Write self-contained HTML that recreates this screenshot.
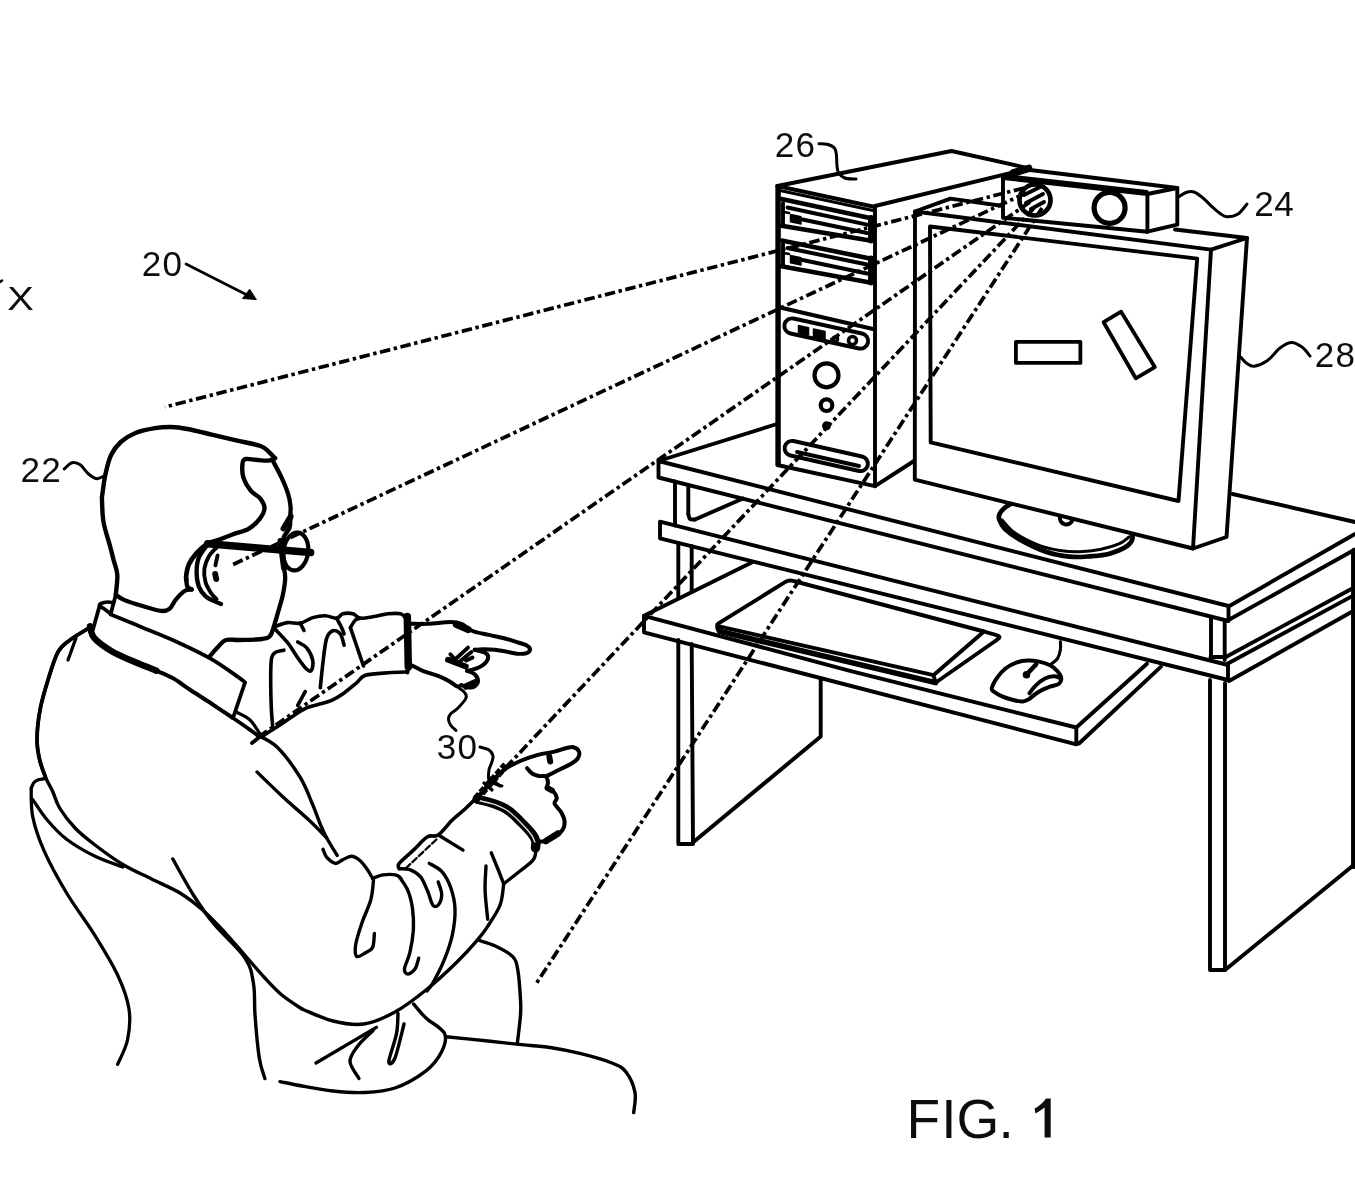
<!DOCTYPE html>
<html><head><meta charset="utf-8"><title>FIG. 1</title>
<style>
html,body{margin:0;padding:0;background:#fff;}
body{width:1355px;height:1200px;overflow:hidden;}
svg{display:block}
svg path,svg circle,svg ellipse{fill:none;stroke:#000;stroke-linecap:round;stroke-linejoin:round}
svg text{font-family:"Liberation Sans",sans-serif;fill:#111;stroke:none}
</style></head><body>
<svg width="1355" height="1200" viewBox="0 0 1355 1200">
<defs><filter id="b" x="0" y="0" width="100%" height="100%" filterUnits="userSpaceOnUse"><feGaussianBlur stdDeviation="0.55"/></filter></defs>
<rect width="1355" height="1200" style="fill:#fff"/>
<g filter="url(#b)">
<path d="M658.5 461 L1228.5 606 L1228.5 621 L658.5 477.5 Z" stroke-width="3.9"/>
<path d="M658.5 461 L777 424" stroke-width="3.9"/>
<path d="M1228.5 606.5 L1355 534" stroke-width="3.9"/>
<path d="M1228.5 620 L1355 549.5" stroke-width="3.9"/>
<path d="M1232.5 494 L1355 522" stroke-width="3.9"/>
<path d="M660 521.7 L1228 665 L1228 680 L660 538.3 Z" stroke-width="3.9"/>
<path d="M1227 664 L1355 594.6" stroke-width="3.9"/>
<path d="M1229 681 L1355 610" stroke-width="3.9"/>
<path d="M1225.8 657 L1355 587" stroke-width="3.9"/>
<path d="M1211 617 L1211 657" stroke-width="3.9"/>
<path d="M1224.7 621 L1224.7 660" stroke-width="3.9"/>
<path d="M1210.5 657 L1225.8 657" stroke-width="3.9"/>
<path d="M675 481.5 L675 525.5" stroke-width="3.9"/>
<path d="M688.3 485 L688.3 514" stroke-width="3.9"/>
<path d="M688.3 514 C688.6 514.8 688.9 518.1 690 519 C691.1 519.9 694.2 519.4 695 519.5" stroke-width="3.9"/>
<path d="M695 519.5 L743 498.5" stroke-width="3.9"/>
<path d="M678.3 543 L678.3 598" stroke-width="3.9"/>
<path d="M691.7 546 L691.7 590.5" stroke-width="3.9"/>
<path d="M678.3 640 L678.3 844 L693 844 L691.7 644" stroke-width="3.9"/>
<path d="M693.5 842 L820.7 736.5 L820.7 679" stroke-width="3.9"/>
<path d="M1210 680 L1210 970 L1225 970 L1225 683" stroke-width="3.9"/>
<path d="M1225 970 L1355 864" stroke-width="3.9"/>
<path d="M1354 551 L1354 866" stroke-width="5.9"/>
<path d="M644 615.8 L850 670.8 L1076.3 727.5 L1076.3 744.4 L644 632.3 Z" stroke-width="3.9"/>
<path d="M644 615.8 L751.7 562.5" stroke-width="3.9"/>
<path d="M1076.3 727.5 L1147 663.7" stroke-width="3.9"/>
<path d="M1079 743.5 L1161 666.7" stroke-width="3.9"/>
<path d="M719 626.3 Q715.5 625.5 718.5 623.3 L785 582.2 Q789 579.6 793.5 581 L984 631.5 L933.4 675.2 Z" stroke-width="3.9"/>
<path d="M984 631.5 C986 632.1 993.4 634 996 635 C998.6 636 999.5 636.3 999.5 637.2 C999.5 638.1 996.6 640 996 640.5" stroke-width="3.9"/>
<path d="M996 640.5 L936.5 682" stroke-width="3.9"/>
<path d="M718 627.5 L719.5 631.2 L935.6 682.6" stroke-width="5.6"/>
<path d="M933.4 675.2 L935.6 682.3" stroke-width="3.9"/>
<path d="M991.8 688.1 C992.3 685.8 994.7 681.1 997 677.8 C999.3 674.5 1002.5 670.8 1005.8 668.2 C1009.1 665.6 1013.2 663.6 1016.9 662.3 C1020.6 661 1024.3 660.6 1028 660.5 C1031.7 660.4 1035.3 660.8 1039 661.6 C1042.7 662.4 1047 663.7 1050.1 665.3 C1053.2 666.9 1055.7 669.1 1057.5 671.2 C1059.3 673.3 1061 675.7 1061.2 677.8 C1061.5 679.9 1060.8 682.2 1059 683.7 C1057.2 685.2 1052.8 685.7 1050.1 686.7 C1047.4 687.7 1045.2 688.4 1042.7 689.6 C1040.2 690.8 1037.7 692.4 1035.4 694 C1033.1 695.6 1030.8 698 1028.7 699.2 C1026.6 700.4 1025.4 701.3 1022.8 701.4 C1020.2 701.5 1016.7 700.9 1013.2 700 C1009.8 699.1 1005.3 697.7 1002.1 696.3 C998.9 694.9 995.7 693.2 994 691.8 C992.3 690.4 991.3 690.4 991.8 688.1 Z" stroke-width="4"/>
<circle cx="1026.5" cy="674.7" r="1.6" stroke-width="4.4" style="fill:#000"/>
<path d="M1027 674 L1036 664.5" stroke-width="4.7"/>
<path d="M1029.4 693.3 C1030.5 691.9 1033.5 687.7 1036.1 685.2 C1038.7 682.7 1042 680 1045 678.5 C1048 677 1051.3 676.4 1053.8 676.3 C1056.3 676.2 1059 677.7 1060 678" stroke-width="3.9"/>
<path d="M1050.8 664.5 C1051.9 663.5 1055.9 661.1 1057.5 658.6 C1059.1 656.1 1059.9 652.6 1060.4 649.8 C1060.9 647 1060.4 643 1060.4 641.6" stroke-width="3.1"/>
<path d="M777.3 186 L875 207 L875 486.2 L777.3 465 Z" stroke-width="3.9"/>
<path d="M777.3 186 L951.5 151 L1029 168.3" stroke-width="3.9"/>
<path d="M875 206 L1022 170.3" stroke-width="3.9"/>
<path d="M1013 172.3 L1029 167.8" stroke-width="6.5"/>
<path d="M875 486.2 L914 461" stroke-width="3.9"/>
<path d="M778.6 188 L778.6 465" stroke-width="4.4"/>
<path d="M780 190.5 L873 210.5" stroke-width="3.2"/>
<path d="M781.5 199 L870 218" stroke-width="4.5"/>
<path d="M787.5 207.5 L867 224.7" stroke-width="3.9"/>
<path d="M802.5 219.5 L867 233" stroke-width="3.9"/>
<path d="M780 225.5 L870 240.5" stroke-width="4.5"/>
<path d="M871 218 L871 240.5" stroke-width="5.9"/>
<path d="M783 203 L783 224" stroke-width="3.9"/>
<path d="M790.5 214.5 L801 216.7 L801 224 L790.5 221.8 Z" style="fill:#000" stroke-width="1.5"/>
<path d="M784 212 L789 213" stroke-width="2.6"/>
<path d="M781.5 240.5 L870 258.5" stroke-width="4.5"/>
<path d="M787.5 248 L867 264.5" stroke-width="3.9"/>
<path d="M802.5 260 L867 273.5" stroke-width="3.9"/>
<path d="M780 266 L870 282.5" stroke-width="4.5"/>
<path d="M871 258.5 L871 282.5" stroke-width="5.9"/>
<path d="M783 244 L783 265" stroke-width="3.9"/>
<path d="M790.5 255.5 L801 257.7 L801 265 L790.5 262.8 Z" style="fill:#000" stroke-width="1.5"/>
<path d="M784 253 L789 254" stroke-width="2.6"/>
<path d="M778 307 L873 329" stroke-width="3.9"/>
<path d="M793.5 318.5 L862 333.5 A7.5 7.5 0 0 1 859 348.5 L790.5 333.5 A7.5 7.5 0 0 1 793.5 318.5 Z" stroke-width="3.9"/>
<path d="M798.5 325.5 L808.5 327.7 L808.5 335 L798.5 332.8 Z" style="fill:#000" stroke-width="1.5"/>
<path d="M813.5 329 L825 331.5 L825 338.8 L813.5 336.3 Z" style="fill:#000" stroke-width="1.5"/>
<circle cx="835.5" cy="339" r="2.2" stroke-width="3.2"/>
<circle cx="852.5" cy="340.5" r="4" stroke-width="3.6"/>
<circle cx="826.5" cy="375.3" r="12" stroke-width="4.2"/>
<circle cx="826.5" cy="405.2" r="5.8" stroke-width="4.2"/>
<circle cx="826.5" cy="425.8" r="2.2" stroke-width="4.5" style="fill:#000"/>
<path d="M793.5 441 L862 456.5 A7.3 7.3 0 0 1 859 471 L790.5 455.5 A7.3 7.3 0 0 1 793.5 441 Z" stroke-width="3.9"/>
<path d="M797 452 L859 466" stroke-width="3.9"/>
<path d="M1012 503 C1010.7 503.9 1006.1 506.7 1004 508.5 C1001.9 510.3 1000.4 512.2 999.6 514 C998.8 515.8 998.3 517 999.2 519.5 C1000.1 522 1001.5 525.6 1005 529 C1008.5 532.4 1013.1 535.9 1019.9 539.7 C1026.7 543.5 1037.5 548.9 1045.8 551.7 C1054.1 554.5 1062.3 555.9 1069.7 556.7 C1077.1 557.5 1083.4 556.8 1090 556.3 C1096.6 555.8 1103.2 555.5 1109.5 553.7 C1115.8 551.9 1123.7 548.3 1127.5 545.7 C1131.3 543.1 1132.2 540.5 1132.6 538 C1133 535.5 1130.4 532.2 1130 531" stroke-width="4.7"/>
<path d="M1001.9 519.8 C1004.1 522 1008.7 528.7 1015 533 C1021.3 537.3 1032.3 542.8 1039.8 545.7 C1047.3 548.6 1053.4 549.5 1060 550.5 C1066.6 551.5 1072.9 551.9 1079.6 551.7 C1086.3 551.5 1093.3 550.8 1100 549.5 C1106.7 548.2 1114.7 545.8 1119.5 543.7 C1124.3 541.6 1127.4 538.1 1129 537" stroke-width="3"/>
<path d="M915 211.5 L1211 249.6 L1193 548.5 L914.8 479.6 Z" stroke-width="3.9" style="fill:#fff"/>
<path d="M1060 516.5 A6.3 6.3 0 0 0 1072.6 519.5" stroke-width="3.9"/>
<path d="M930 226.5 L1197.2 258.6 L1178.5 501 L930.7 442.4 Z" stroke-width="3.9"/>
<path d="M915 211.5 L950.5 198.6 L1003 206" stroke-width="3.9"/>
<path d="M1175 229.5 L1247 238 L1211 249.6" stroke-width="3.9"/>
<path d="M1247 238 L1226.5 537 L1193 548.5" stroke-width="3.9"/>
<path d="M1015.9 341.9 L1080.4 341.9 L1080.4 362.9 L1015.9 362.9 Z" stroke-width="3.8"/>
<path d="M1103.6 322.2 L1121.1 311.7 L1154.8 367.1 L1135.8 378.3 Z" stroke-width="3.8"/>
<path d="M1003 178 L1147.4 194 L1147.4 231.7 L1003 217.7 Z" stroke-width="3.9" style="fill:#fff"/>
<path d="M1003 178 L1030 170 L1177.3 188 L1147.4 194" stroke-width="3.9"/>
<path d="M1177.3 188 L1177.3 224.7 L1147.4 231.7" stroke-width="3.9"/>
<path d="M1004 175.5 L1147 191.5" stroke-width="3.2"/>
<circle cx="1035" cy="200" r="15.5" stroke-width="4.7"/>
<path d="M1047 209.5 A15.5 15.5 0 0 1 1030 214.8 A22 22 0 0 0 1047 209.5 Z" style="fill:#000" stroke-width="2"/>
<circle cx="1109.6" cy="207.8" r="15.5" stroke-width="5.2"/>
<path d="M1024 195 L1040 187" stroke-width="3.9"/>
<path d="M1026 203 L1043 194" stroke-width="3.9"/>
<path d="M1031 209 L1044 202" stroke-width="3.9"/>
<path d="M1024 188 L165 407" stroke-width="3.7" stroke-dasharray="10.5 3.6 3.4 3.6" style="stroke-linecap:butt"/>
<path d="M1026 193 L232 565" stroke-width="3.7" stroke-dasharray="10.5 3.6 3.4 3.6" style="stroke-linecap:butt"/>
<path d="M1030 202 L257 738" stroke-width="3.7" stroke-dasharray="10.5 3.6 3.4 3.6" style="stroke-linecap:butt"/>
<path d="M1034 208 L478 797" stroke-width="3.7" stroke-dasharray="10.5 3.6 3.4 3.6" style="stroke-linecap:butt"/>
<path d="M1042 208 L536 984" stroke-width="3.7" stroke-dasharray="10.5 3.6 3.4 3.6" style="stroke-linecap:butt"/>
<text x="774.8" y="157" font-size="35" letter-spacing="1.3">26</text>
<text x="1254.3" y="216" font-size="35" letter-spacing="0.6">24</text>
<text x="1314.8" y="366.5" font-size="35" letter-spacing="1.3">28</text>
<text x="141.8" y="275.5" font-size="35" letter-spacing="1.3">20</text>
<text x="20.6" y="482" font-size="35" letter-spacing="1.3">22</text>
<text x="436.8" y="759.2" font-size="35" letter-spacing="1.3">30</text>
<text transform="translate(7.3 309.7) scale(1.17 1)" x="0" y="0" font-size="34">X</text>
<path d="M0 282 L2 280.5" stroke-width="2.6"/>
<text x="906.5 941.2 956.6 998.5" y="1138" font-size="55">FIG.</text>
<path d="M1050.7 1098.6 L1050.7 1137.6 L1044.6 1137.6 L1044.6 1107.6 Q1040 1111.3 1035.4 1113.4 L1034.6 1108.6 Q1041.5 1105 1046 1098.6 Z" style="fill:#111;stroke:none"/>
<path d="M819 143.8 C820.3 143.9 824.4 143.6 827 144.3 C829.6 145 832.8 146.2 834.4 148 C836 149.8 836 152.1 836.4 155 C836.8 157.9 836.6 162.6 837 165.5 C837.4 168.4 837.2 170.6 838.5 172.7 C839.8 174.8 841.8 176.9 844.7 178 C847.6 179.1 854.1 178.8 856 179" stroke-width="3"/>
<path d="M1178 197.5 C1179.3 196.7 1183.3 193.4 1186 192.5 C1188.7 191.6 1191.2 191.1 1194 192 C1196.8 192.9 1200 195.6 1203 198 C1206 200.4 1209.2 204.1 1212 206.7 C1214.8 209.3 1217.5 211.8 1220 213.5 C1222.5 215.2 1224 216.7 1227 216.8 C1230 216.9 1234.7 216.1 1238 214 C1241.3 211.9 1245.5 205.7 1247 204" stroke-width="3"/>
<path d="M1240.6 357 C1241.7 358.1 1244.7 362 1247 363.5 C1249.3 365 1250.9 366.7 1254.3 366.2 C1257.7 365.7 1262.9 363.7 1267.2 360.7 C1271.5 357.7 1276 351.1 1280 348 C1284 344.9 1287.3 342.6 1291 342.4 C1294.7 342.2 1298.8 344.7 1302 347 C1305.2 349.3 1308.7 354.5 1310 356" stroke-width="3"/>
<path d="M64.2 469 C65.5 467.9 69.3 463.4 72 462.7 C74.7 462 77.5 462.9 80.2 464.8 C83 466.7 85.7 471.7 88.5 474 C91.3 476.3 94.2 478.4 96.8 478.7 C99.4 479 102.8 476.4 104 476" stroke-width="3"/>
<path d="M186 264 L250 296.5" stroke-width="2.7"/>
<path d="M256 299.5 L242.5 298.5 L249.5 289.5 Z" style="fill:#000" stroke-width="1"/>
<path d="M459 688 C459.9 688.8 463.3 690.8 464.5 692.5 C465.7 694.2 467.1 695.4 466 698 C464.9 700.6 460.6 705.3 458 708 C455.4 710.7 452.1 712.2 450.5 714 C448.9 715.8 448.5 717.2 448.5 719 C448.5 720.8 449.2 723.1 450.5 725 C451.8 726.9 455.1 729.6 456 730.5" stroke-width="3"/>
<path d="M480 747 C481.5 747.5 486.8 748.5 489 750 C491.2 751.5 492.6 753.8 493 756 C493.4 758.2 492.2 760.7 491.5 763 C490.8 765.3 489.4 767.2 489 770 C488.6 772.8 488 777.7 489 780 C490 782.3 492.8 783 495 784 C497.2 785 500.8 785.7 502 786" stroke-width="3"/>
<path d="M115.8 594.7 C116 591.4 117.7 580.6 117.3 574.8 C116.9 569 114.8 564.8 113.6 560 C112.4 555.2 111.7 552.3 110 546 C108.3 539.7 104.8 529.7 103.5 522 C102.2 514.3 102.2 504.4 102 500 C101.8 495.6 101.6 499.8 102.2 495.5 C102.8 491.2 103.9 481.1 105.4 474.4 C106.9 467.6 108.5 460.4 111.1 455 C113.7 449.6 116.7 445.7 120.8 442 C124.9 438.3 129.8 435.3 135.5 433 C141.2 430.7 149.1 429.2 155 428.2 C160.9 427.2 165.8 426.9 171.2 427 C176.6 427.1 180.6 427.7 187.4 429 C194.2 430.3 203.7 432.7 211.8 434.6 C219.9 436.5 228 438.4 236.1 440.3 C244.2 442.2 255.1 444.1 260.5 446 C265.9 447.9 266.2 449.7 268.6 451.7 C271 453.7 274 457.1 275.1 458.2" stroke-width="4.4"/>
<path d="M275.1 458.2 C274 458.6 271.9 460.3 268.6 460.6 C265.4 460.9 259.4 460.1 255.6 459.8 C251.8 459.5 248.1 458.5 245.9 459 C243.7 459.5 243 459.9 242.6 463 C242.2 466.1 242.1 473.1 243.4 477.7 C244.8 482.3 247.8 487.2 250.7 490.7 C253.5 494.2 258.2 495.8 260.5 498.8 C262.8 501.8 264.6 505.2 264.5 508.5 C264.4 511.8 262.3 515.4 259.7 518.8 C257.1 522.2 253 526.2 248.6 528.8 C244.2 531.4 238.1 532.4 233.1 534.3 C228.1 536.1 222.9 538.4 218.7 539.9 C214.5 541.4 209.5 542.7 207.7 543.2" stroke-width="4.4"/>
<path d="M207.7 543.2 C205.8 544.9 199.7 549.6 196.6 553.1 C193.5 556.6 190.6 560.6 188.9 564.2 C187.2 567.8 186.7 572.2 186.3 574.8 C185.9 577.4 186.3 579.1 186.3 580" stroke-width="4.7"/>
<path d="M191.8 589.5 C190.6 589.8 187.2 589.3 184.5 591 C181.8 592.7 178.1 596.9 175.6 599.9 C173.1 602.9 172.2 606.9 169.7 608.7 C167.2 610.5 165.5 611.4 160.8 610.9 C156.1 610.4 147.8 607.6 141.7 605.8 C135.6 604 128.3 601.8 124 599.9 C119.7 598 117.2 595.6 115.8 594.7" stroke-width="4.3"/>
<path d="M191.8 589.5 C191.1 589 188.3 588.2 187.4 586.6 C186.5 585 186.5 581.1 186.3 580" stroke-width="4.4"/>
<path d="M207.7 544.3 C206.2 546.5 200.7 553 198.8 557.6 C197 562.2 196.6 567.2 196.6 572 C196.6 576.8 197.3 582.4 198.8 586.4 C200.3 590.4 203.1 593.9 205.5 596.3 C207.9 598.7 210.6 599.4 213.2 600.7 C215.8 602 219.7 603.5 221 604" stroke-width="4.3"/>
<path d="M216.5 547.6 C215.2 549.1 210.8 553 208.8 556.5 C206.8 560 205 564.4 204.4 568.6 C203.8 572.8 204.4 577.8 205.5 581.9 C206.6 586 209.2 590.1 211 593 C212.8 595.9 215.6 598 216.5 599" stroke-width="3.9"/>
<path d="M217.6 555.4 L215.4 565.3" stroke-width="3.9"/>
<path d="M215.2 574 L216.2 579" stroke-width="5.9"/>
<path d="M273 461 C274.4 463.8 279.1 472.2 281.6 477.7 C284.1 483.2 286.6 489.2 288.1 493.9 C289.6 498.6 290.1 502.3 290.5 506 C290.9 509.7 290.4 512.4 290.3 516 C290.2 519.6 290.7 524.3 289.6 527.7 C288.6 531.1 285.3 533.4 284 536.5 C282.7 539.6 282 542.2 281.8 546.5 C281.6 550.8 282.4 556.8 283 562 C283.6 567.2 285.2 572.1 285.2 577.5 C285.2 582.9 284.1 588.6 283 594.1 C281.9 599.6 280 605.4 278.5 610.7 C277 616 275.4 621.8 274 626 C272.6 630.2 272 633.8 270 636 C268 638.2 267 638.3 262 639 C257 639.7 246 639.8 240 640 C234 640.2 229.7 638.8 226 640 C222.3 641.2 220.7 644.3 218 647 C215.3 649.7 211.3 654.5 210 656" stroke-width="4.3"/>
<path d="M290.7 516.6 L283.5 528.5" stroke-width="5.9"/>
<ellipse cx="295.8" cy="551.5" rx="12.3" ry="19" stroke-width="4.2" transform="rotate(8 295.8 551.5)"/>
<path d="M207.7 543.7 L310.6 552.6" stroke-width="7.5"/>
<path d="M280.5 541 L284 568" stroke-width="5.9"/>
<path d="M115.8 594.7 L110.7 613.9" stroke-width="3.8"/>
<path d="M113.6 602.8 C112.6 602.7 109.8 601.9 107.7 602 C105.6 602.1 102.3 602.9 101 603.5 C99.7 604.1 99.1 604.9 99.6 605.8 C100.1 606.7 102.2 607.4 104 608.7 C105.8 610.1 109.6 613 110.7 613.9" stroke-width="3.6"/>
<path d="M110.7 614.6 C115.9 616.7 130.4 622.5 141.7 627.2 C153 631.9 167 637.4 178.6 642.7 C190.2 648 201.2 653.2 211 658.9 C220.8 664.5 231.9 672.7 237.6 676.6 C243.3 680.5 243.8 681.5 245 682.5" stroke-width="3.8"/>
<path d="M245 682.5 L233 718" stroke-width="3.8"/>
<path d="M99.6 605.8 C99 608 97 615.1 95.9 619 C94.8 622.9 93.5 627.7 93 629.4" stroke-width="3.8"/>
<path d="M90 626.4 C90.7 628.4 90.7 634 94.4 638.2 C98.1 642.4 105.4 647.6 112.1 651.5 C118.8 655.4 126.9 658.6 134.3 661.8 C141.7 665 152.7 669.2 156.4 670.7" stroke-width="6.5"/>
<path d="M134.3 661.8 C138 663.3 150 668 156.4 670.7 C162.8 673.4 167 674.9 172.7 678.1 C178.4 681.3 183.8 685.7 190.4 690 C197 694.3 204.9 699.3 212 704 C219.1 708.7 229.5 715.7 233 718" stroke-width="4"/>
<path d="M233 718 C235.2 719.5 241.5 723.8 246 727 C250.5 730.2 257.7 735.3 260 737" stroke-width="3.8"/>
<path d="M236 712 C238.3 713.3 246 716.3 250 720 C254 723.7 258.3 731.7 260 734" stroke-width="3.2"/>
<path d="M252 743 L262 735" stroke-width="3.8"/>
<path d="M89 628 C85.8 630 75.2 636 70 640 C64.8 644 61.7 645.3 58 652 C54.3 658.7 51 670.3 48 680 C45 689.7 41.8 700 40 710 C38.2 720 37 731.7 37 740 C37 748.3 38.3 753.8 39.7 760 C41.1 766.2 43.3 771.8 45.4 777 C47.5 782.2 50.1 785.8 52.5 791 C54.9 796.2 55.9 801.8 59.6 808 C63.4 814.2 69.1 821.8 75 828 C80.9 834.2 87 838.9 95 845 C103 851.1 113.9 859.1 123.3 864.8 C132.7 870.5 142.2 874.3 151.6 879 C161 883.7 171.5 887.8 180 893 C188.5 898.2 195.1 903.4 202.6 910 C210.1 916.6 218.1 925.2 225.2 932.8 C232.3 940.4 238.4 947.9 245 955.4 C251.6 962.9 258.8 971.4 264.9 978 C271 984.6 275.7 989.8 281.9 995 C288.1 1000.2 298.6 1006.7 302 1009" stroke-width="3.4"/>
<path d="M89 628 C85.8 630 75.2 636 70 640 C64.8 644 61.7 645.3 58 652 C54.3 658.7 51 670.3 48 680 C45 689.7 41.8 700 40 710 C38.2 720 37 731.7 37 740 C37 748.3 38.3 753.8 39.7 760 C41.1 766.2 44.5 774.2 45.4 777" stroke-width="3.8"/>
<path d="M76 638 L68 660" stroke-width="3.3"/>
<path d="M31.2 788.3 C31.7 787.3 32.8 783.9 34 782.5 C35.2 781.1 36.4 780.5 38.3 779.8 C40.2 779.1 44.2 778.6 45.4 778.4" stroke-width="3.3"/>
<path d="M31.2 788.3 C31.4 793 30.6 806.2 32.7 816.6 C34.8 827 38.4 837.9 44 850.6 C49.6 863.3 58.1 878.8 66.6 893 C75.1 907.2 86.5 921.9 95 935.6 C103.5 949.3 111.9 962.8 117.6 975 C123.3 987.2 127.3 998.2 129 1009 C130.7 1019.8 129.4 1030.8 127.5 1040 C125.6 1049.2 119.2 1060.3 117.6 1064.4" stroke-width="3.3"/>
<path d="M32.7 799.6 C35.1 802.9 41.1 812.9 46.8 819.5 C52.4 826.1 58.6 833.2 66.6 839.3 C74.6 845.4 85.6 851.7 95 856.3 C104.4 860.9 118.3 865.2 123 867" stroke-width="3.3"/>
<path d="M275.1 626.4 C277.2 625.8 283.4 623.1 287.6 622.6 C291.8 622.1 296 624 300.2 623.2 C304.4 622.4 308.5 618.9 312.7 617.6 C316.9 616.4 321.3 615.6 325.3 615.7 C329.3 615.8 333.7 618.5 336.6 618.2 C339.5 617.9 340.1 614.5 342.8 613.8 C345.5 613.1 350 613.1 352.9 613.8 C355.8 614.5 356.6 617.8 360.4 618.2 C364.2 618.6 370.9 617 375.5 616.3 C380.1 615.6 383.8 614.2 388 613.8 C392.2 613.4 397.7 613.1 400.6 613.8 C403.5 614.5 404.8 617.5 405.6 618.2" stroke-width="3.6"/>
<path d="M407.3 616.5 L408.3 667" stroke-width="7.5"/>
<path d="M408.3 667 L407.5 672.5" stroke-width="3.9"/>
<path d="M407 672 C403.8 672.1 394.9 672.2 388 672.8 C381.1 673.3 370.6 673.6 365.4 675.3 C360.2 677 360.2 679.9 356.6 682.8 C353.1 685.7 348.3 690 344.1 692.9 C339.9 695.8 335.8 698.5 331.6 700.4 C327.4 702.3 323.2 703 319 704.2 C314.8 705.5 310.7 706 306.5 707.9 C302.3 709.8 299.1 712.1 293.9 715.5 C288.7 718.9 280.5 724.5 275.1 728 C269.7 731.5 263.6 735.3 261.3 736.8" stroke-width="3.6"/>
<path d="M360.4 618.2 C359.6 618.5 357.1 618.4 355.4 620 C353.7 621.6 351.2 626.3 350.4 627.6" stroke-width="3.6"/>
<path d="M350.4 627.6 L363.5 666" stroke-width="3.6"/>
<path d="M283.9 650.2 C282.4 650.6 277.2 651 275.1 652.7 C273 654.4 272 655.2 271.3 660.2 C270.6 665.2 270.7 674.8 270.7 682.8 C270.7 690.8 271 700.8 271.3 707.9 C271.6 715 272.4 722.6 272.6 725.5" stroke-width="3.6"/>
<path d="M275.5 629.5 C277.5 631.7 283.9 638 287.6 642.7 C291.3 647.4 294.6 653.3 297.7 657.7 C300.8 662.1 304.2 666.9 306.5 669 C308.8 671.1 310.5 671.8 311.5 670.3 C312.5 668.8 313.5 664 312.7 660.2 C311.9 656.4 309 650.7 306.5 647.7 C304 644.7 299.2 643 297.7 642" stroke-width="3.6"/>
<path d="M344.1 645.2 C343.5 643.3 342.2 636.3 340.3 633.9 C338.4 631.5 335.1 630 332.8 630.8 C330.5 631.6 328.2 633.4 326.5 638.9 C324.8 644.4 323.8 655.9 322.8 664 C321.8 672.1 320.7 683.8 320.3 687.8" stroke-width="3.6"/>
<path d="M336.6 618.2 C337.4 619.8 340.4 625 341.6 627.6 C342.9 630.2 343.7 632.9 344.1 633.9" stroke-width="3.6"/>
<path d="M300.2 623.2 L304 630.5" stroke-width="3.6"/>
<path d="M305.2 691.6 L297.7 705.4" stroke-width="3.6"/>
<path d="M409.4 623.8 C412.5 623.8 421.4 624.1 428.2 623.8 C435 623.5 444.9 622.1 450.4 622.1 C455.9 622.1 457.7 622.3 461.4 623.8 C465.1 625.3 467.9 629.1 472.5 631 C477.1 632.9 483.6 633.6 489.1 634.9 C494.6 636.2 501.1 637.5 505.7 638.7 C510.3 639.9 513.3 641 516.8 642.1 C520.3 643.2 524.5 644.2 526.7 645.4 C528.9 646.6 530 648 530 649.3 C530 650.6 528.9 652.4 526.7 653.1 C524.5 653.8 520.3 654 516.8 653.7 C513.3 653.4 509.4 652.1 505.7 651.5 C502 650.9 498.3 650.2 494.6 649.8 C490.9 649.4 486.9 649.3 483.6 649.3 C480.3 649.3 476.2 649.7 474.7 649.8" stroke-width="4"/>
<path d="M474.7 649.8 C476.6 650.3 483.6 651.6 485.8 653.1 C488 654.6 488.6 656.7 488 658.7 C487.4 660.7 485.1 663.5 482.5 665.3 C479.9 667.1 475.1 668.8 472.5 669.7 C469.9 670.6 467.9 670.6 467 670.8" stroke-width="4"/>
<path d="M467 670.8 C468.3 671.4 472.9 672.5 474.7 674.2 C476.5 675.9 478 678.8 478 680.8 C478 682.8 476.2 685.2 474.7 686.3 C473.2 687.4 471.4 687.7 469.2 687.5 C467 687.3 462.7 685.6 461.4 685.2" stroke-width="4"/>
<path d="M411.6 665.3 C413.5 666.2 418.1 668.9 422.7 670.8 C427.3 672.6 434.7 674.5 439.3 676.4 C443.9 678.2 447.4 680.2 450.4 681.9 C453.3 683.6 455.2 685.8 457 686.4 C458.8 687 460.7 685.4 461.4 685.2" stroke-width="4"/>
<path d="M456.5 624.5 L468 629.5" stroke-width="7.2"/>
<path d="M466 686.5 L476 682" stroke-width="6.5"/>
<path d="M448 659.8 L465.8 666.4" stroke-width="5.9"/>
<path d="M450.4 654.2 L457 662" stroke-width="3.9"/>
<path d="M468 647.6 L454.8 659.8" stroke-width="3.9"/>
<path d="M471.4 652 L459.2 662" stroke-width="3.9"/>
<path d="M472.5 657.6 L466 660.5" stroke-width="3.9"/>
<path d="M257 735 C260.3 737 269.8 740 277 747 C284.2 754 294.2 767.7 300 777 C305.8 786.3 308.5 794.8 312 803 C315.5 811.2 318.6 820.2 321 826 C323.4 831.8 323.9 832.8 326.6 837.7 C329.3 842.6 335.4 852.5 337.2 855.4" stroke-width="3.4"/>
<path d="M257 772 C261.3 776.2 274.4 789 283 797 C291.6 805 301.6 813.2 308.9 820 C316.2 826.8 323.7 834.8 326.6 837.7" stroke-width="3.4"/>
<path d="M323 849.2 C323.6 850.5 324.5 854.8 326.6 857.2 C328.7 859.6 332.8 863 335.4 863.4 C338 863.8 339.8 861.1 342.5 859.9 C345.2 858.7 348.4 856.2 351.4 856.3 C354.3 856.4 357.5 858.5 360.2 860.7 C362.9 862.9 365.2 866.7 367.3 869.6 C369.4 872.5 371.7 876.9 372.6 878.4" stroke-width="3.4"/>
<path d="M372.6 878.4 C374.4 877.8 379.4 875.5 383.2 874.9 C387 874.3 392.6 874.3 395.6 874.9 C398.6 875.5 400.1 877.8 401 878.4" stroke-width="3.4"/>
<path d="M172.8 859 C176.3 865.2 187.1 885.2 194 896 C200.9 906.8 205.5 913.7 214 924 C222.5 934.3 238.4 948 245 958 C251.6 968 251.8 974.2 253.5 983.7 C255.2 993.2 254.1 1002.6 255 1014.9 C255.9 1027.2 257.6 1046.8 259.2 1057.4 C260.8 1068 263.9 1075.1 264.9 1078.6" stroke-width="3.4"/>
<path d="M302 1009 C307.2 1011 322.7 1018.5 333 1021 C343.3 1023.5 353.7 1025.5 364 1024 C374.3 1022.5 384.7 1017.7 395 1012 C405.3 1006.3 415.7 998.3 426 990 C436.3 981.7 448.5 970.3 457 962 C465.5 953.7 472 946.4 477.1 940.4 C482.2 934.4 483.9 932.2 487.7 926.3 C491.5 920.4 497.4 912.1 500.1 905 C502.8 897.9 503.1 887.3 503.7 883.8" stroke-width="3.4"/>
<path d="M373.5 880.2 C373.1 883.5 372.7 892.6 370.8 899.7 C368.9 906.8 364.5 915.3 362 922.7 C359.5 930.1 356.7 938.4 355.8 944 C354.9 949.6 355.1 954.9 356.7 956.4 C358.3 957.9 362.9 954.3 365.5 952.8 C368.1 951.3 371.1 950.7 372.6 947.5 C374.1 944.3 374.1 935.8 374.4 933.4" stroke-width="3.4"/>
<path d="M399.2 876.7 C400.7 879.1 405.8 885.5 408 890.8 C410.2 896.1 411.6 902.1 412.5 908.6 C413.4 915.1 413.8 922.4 413.4 929.8 C412.9 937.2 411.3 946.3 409.8 952.8 C408.3 959.3 404.8 965.3 404.5 968.8 C404.2 972.3 406.2 974 408 974 C409.8 974 413.3 971.4 415.1 968.8 C416.9 966.2 418.1 960 418.7 958.2" stroke-width="3.4"/>
<path d="M429.3 863.4 C431.4 864.7 438.1 867.4 441.7 871.4 C445.2 875.4 448.4 881.1 450.6 887.3 C452.8 893.5 454.7 900.6 455 908.6 C455.3 916.6 454.2 926.2 452.3 935.1 C450.4 944 446.8 953.7 443.5 961.7 C440.2 969.7 435.6 978.1 432.8 983 C430.1 987.9 428 989.7 427 991" stroke-width="3.4"/>
<path d="M477 797.5 C475 799.4 469.1 805.2 465 809 C460.9 812.8 456.8 815.7 452.3 820 C447.8 824.3 442.3 832.2 438.2 835 C434.1 837.8 431.6 834.3 427.5 836.8 C423.4 839.3 418.1 845.7 413.4 850.1 C408.7 854.5 401.6 860.3 399.2 863.4 C396.8 866.5 399.2 867.8 399.2 868.7" stroke-width="3.6"/>
<path d="M436.4 839.5 L406.3 867.8" stroke-width="2.3" stroke-dasharray="6 3"/>
<path d="M399.2 868.7 C401 868.9 406.3 868.3 409.8 869.6 C413.3 870.9 417.4 873.2 420.4 876.7 C423.3 880.2 425.4 886.1 427.5 890.8 C429.6 895.5 431 902.6 432.8 905 C434.6 907.4 436.7 906.8 438.2 905 C439.7 903.2 441.7 898.2 441.7 894.4 C441.7 890.6 438.8 884.1 438.2 882" stroke-width="3.4"/>
<path d="M440 836 L463 850.1" stroke-width="3.4"/>
<path d="M477.1 799.2 C479.9 799.9 488.5 801.8 493.7 803.6 C498.9 805.5 503.5 807.1 508.1 810.3 C512.7 813.4 517.3 818.5 521.4 822.5 C525.5 826.5 530.1 831.5 532.5 834.6 C534.9 837.7 535.3 839.1 535.8 841.3 C536.3 843.5 535.5 846.9 535.5 848" stroke-width="9.4"/>
<path d="M480 800.8 C482.3 801.4 489 802.5 493.7 804.2 C498.4 805.9 503.6 807.9 508.1 811 C512.6 814.1 517.1 819 521 823 C524.9 827 529.2 831.8 531.5 835 C533.8 838.2 534.2 840.8 534.8 842" stroke-width="1.4" style="stroke:#ddd"/>
<path d="M536 846 C535.6 848.2 536.5 854.8 533.8 859 C531.1 863.2 525 866.9 520 871 C515 875.1 506.4 881.7 503.7 883.8" stroke-width="3.4"/>
<path d="M486 866 C485.9 870.1 484.8 881.9 485.1 890.8 C485.4 899.7 487.3 914.5 487.7 919.2" stroke-width="3.4"/>
<path d="M491.3 852.8 C492.3 855.3 495.4 862.8 497.5 868 C499.6 873.2 502.7 881.2 503.7 883.8" stroke-width="3.4"/>
<path d="M477.1 798.1 C479.5 795.3 486.9 786.3 491.5 781.5 C496.1 776.7 499.8 772.8 504.8 769.3 C509.8 765.8 515.9 762.9 521.4 760.5 C526.9 758.1 532.5 756.4 538 754.9 C543.5 753.4 550 752.7 554.6 751.6 C559.2 750.5 562.6 749 565.7 748.3 C568.9 747.6 571.3 746.7 573.5 747.2 C575.7 747.8 578.3 749.8 579 751.6 C579.7 753.4 579.2 756.2 577.9 758.2 C576.6 760.2 574.2 761.9 571.2 763.8 C568.2 765.6 563.9 767.4 560.2 769.3 C556.5 771.1 551.5 773.7 549.1 774.9 C546.7 776.1 546.3 776.2 545.8 776.5" stroke-width="4"/>
<path d="M527 768.2 C527.9 769.1 530.5 772.4 532.5 773.7 C534.5 775 536.9 775.5 539.1 776 C541.3 776.5 544.3 775.4 545.8 776.5 C547.3 777.6 547.8 780.7 548 782.6 C548.2 784.5 546 786.6 546.9 788.1 C547.8 789.6 551.9 789.8 553.5 791.5 C555.1 793.2 556.6 796.1 556.8 798.1 C557 800.1 553.9 801.2 554.6 803.6 C555.4 806 559.6 809.5 561.3 812.5 C563 815.5 564.4 818.4 564.6 821.4 C564.8 824.4 564.1 827.6 562.4 830.2 C560.7 832.8 557.4 835 554.6 836.9 C551.8 838.8 548.4 840.6 545.8 841.3 C543.2 842 540.2 841.3 539.1 841.3" stroke-width="4"/>
<path d="M549.3 756.5 L550.2 761.6" stroke-width="5.9"/>
<path d="M546 841 L558 833.5" stroke-width="6.5"/>
<path d="M547.5 788 L552 790.5" stroke-width="5.9"/>
<path d="M476 799 L506 765" stroke-width="7.8" stroke-dasharray="6 2" style="stroke-linecap:butt"/>
<path d="M484 783 L492 790" stroke-width="3.2"/>
<path d="M490 778 L500 786" stroke-width="3.2"/>
<path d="M478.9 940.4 C481.5 941.3 489.2 943.1 494.8 945.8 C500.4 948.5 508.6 952.3 512.5 956.4 C516.4 960.5 516.6 963.3 517.9 970.6 C519.2 977.9 520.1 992.6 520.5 1000 C520.9 1007.4 521 1007.8 520.5 1015 C520 1022.2 517.9 1038.3 517.4 1043" stroke-width="3.4"/>
<path d="M446 1036.7 C453 1037.4 475.8 1039.7 488 1041 C500.2 1042.3 508.7 1043.3 519 1044.4 C529.3 1045.5 539.7 1046 550 1047.5 C560.3 1049 570.7 1051.1 581 1053.7 C591.3 1056.3 604.5 1060 612 1063 C619.5 1066 622.2 1067.1 626 1072 C629.8 1076.9 633.7 1085.7 635 1092.5 C636.3 1099.3 633.9 1109.2 633.7 1112.6" stroke-width="3.4"/>
<path d="M413.6 1004 C415.7 1006.3 420.8 1013.1 426 1018 C431.2 1022.9 442 1027.9 444.6 1033.6 C447.2 1039.3 444.6 1045.8 441.5 1052 C438.4 1058.2 433.8 1064.8 426 1070.8 C418.2 1076.8 405.3 1084.4 395 1088 C384.7 1091.6 374.3 1092 364 1092.5 C353.7 1093 343.3 1092.1 333 1091 C322.7 1089.9 310.8 1087.6 302 1086 C293.2 1084.4 283.7 1082.3 280 1081.6" stroke-width="3.4"/>
<path d="M316 1063 L376.4 1027.4" stroke-width="3.4"/>
<path d="M373 1030.5 C370.5 1033.1 361.6 1040.8 357.8 1046 C354 1051.2 349.8 1056.1 350 1061.5 C350.2 1066.9 357.5 1075.7 359 1078.5" stroke-width="3.4"/>
<path d="M398 1013.4 C397.8 1016.8 398 1025.6 396.5 1033.6 C395 1041.6 389.1 1057.4 388.8 1061.5 C388.6 1065.6 392.5 1064.2 395 1058 C397.5 1051.8 402.5 1029.7 404 1024" stroke-width="3.4"/>
</g>
</svg>
</body></html>
